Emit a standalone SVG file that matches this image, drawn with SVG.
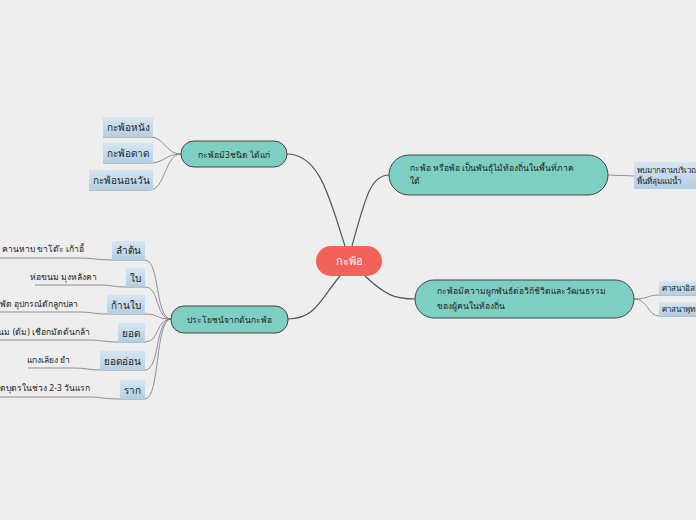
<svg xmlns="http://www.w3.org/2000/svg" width="696" height="520" viewBox="0 0 696 520">
<defs>
<linearGradient id="lb" x1="0" y1="0" x2="0" y2="1"><stop offset="0" stop-color="#d6e6f2"/><stop offset="1" stop-color="#b3cee2"/></linearGradient>
<style>
text{font-family:"Noto Sans","DejaVu Sans",sans-serif;fill:#222}
.b{fill:#7ecfc3;stroke:#444;stroke-width:1}
.l{fill:url(#lb)}
.c{fill:none;stroke:#555;stroke-width:1.2}
.t{fill:none;stroke:#777;stroke-width:0.8}
.s{font-size:10px}
.d{font-size:8.5px}
.m{font-size:11px}
</style>
</defs>
<rect width="696" height="520" fill="#eeeeee"/>
<g id="connectors">
<path class="c" d="M345,246 C330,200 320,154 287,154"/>
<path class="c" d="M352,246 C365,200 370,175 389,175"/>
<path class="c" d="M340,276 C320,300 315,319 288,319"/>
<path class="c" d="M365,276 C385,295 395,299 415,299"/>
<path class="t" d="M181,154 C165,154 165,137 150,137 L103,137"/>
<path class="t" d="M181,154 C165,154 165,163 150,163 L103,163"/>
<path class="t" d="M181,154 C165,154 165,190 150,190 L89,190"/>
<path class="t" d="M608,175 L634,176"/>
<path class="t" d="M634,299 C648,299 648,295 659,295 L696,295"/>
<path class="t" d="M634,299 C648,299 648,316 659,316 L696,316"/>
<path class="t" d="M171,319 C155,319 160,260 145,260 L112,260 C100,260 90,258 80,258 L0,258"/>
<path class="t" d="M171,319 C155,319 160,287 145,287 L126,287 C115,287 110,285 100,285 L35,285"/>
<path class="t" d="M171,319 C155,319 160,314 145,314 L107,314 C95,314 90,312 80,312 L0,312"/>
<path class="t" d="M171,319 C155,319 160,342 145,342 L118,342 C105,342 100,340 90,340 L0,340"/>
<path class="t" d="M171,319 C155,319 160,370 145,370 L100,370 C90,370 85,368 75,368 L28,368"/>
<path class="t" d="M171,319 C155,319 160,399 145,399 L120,399 C105,399 100,397 90,397 L0,397"/>
</g>
<g id="center"><rect x="316" y="246" width="66" height="30" rx="15" fill="#f2625a"/><text x="349" y="265" class="m" text-anchor="middle" style="fill:#fff">กะพ้อ</text></g>
<g id="b1"><rect class="b" x="389" y="155" width="219" height="40" rx="20"/><text x="410" y="171" class="d">กะพ้อ หรือพ้อ เป็นพันธุ์ไม้ท้องถิ่นในพื้นที่ภาค</text><text x="410" y="184" class="d">ใต้</text></g>
<g id="b2"><rect class="b" x="415" y="280" width="219" height="38" rx="19"/><text x="437" y="294" class="d">กะพ้อมีความผูกพันธ์ต่อวิถีชีวิตและวัฒนธรรม</text><text x="437" y="309" class="d">ของผู้คนในท้องถิ่น</text></g>
<g id="b3"><rect class="b" x="181" y="141" width="106" height="26" rx="13"/><text x="234" y="158" class="d" text-anchor="middle">กะพ้อมี3ชนิด ได้แก่</text></g>
<g id="b4"><rect class="b" x="171" y="306" width="117" height="27" rx="13"/><text x="229" y="323" class="d" text-anchor="middle">ประโยชน์จากต้นกะพ้อ</text></g>
<g id="r1"><rect class="l" x="634" y="162" width="62" height="27"/><text x="637" y="173" style="font-size:8px">พบมากตามบริเวณ</text><text x="637" y="184" style="font-size:8px">พื้นที่ลุ่มแม่น้ำ</text></g>
<g id="r2"><rect class="l" x="659" y="281" width="37" height="14"/><text x="662" y="291" style="font-size:8px">ศาสนาอิสลาม</text></g>
<g id="r3"><rect class="l" x="659" y="302" width="37" height="14"/><text x="662" y="312" style="font-size:8px">ศาสนาพุทธ</text></g>
<g id="k1"><rect class="l" x="103" y="117" width="50" height="20"/><text x="128" y="131" class="s" text-anchor="middle">กะพ้อหนัง</text></g>
<g id="k2"><rect class="l" x="103" y="143" width="50" height="20"/><text x="128" y="157" class="s" text-anchor="middle">กะพ้อดาด</text></g>
<g id="k3"><rect class="l" x="89" y="170" width="64" height="20"/><text x="121" y="184" class="s" text-anchor="middle">กะพ้อนอนวัน</text></g>
<g id="u1"><rect class="l" x="112" y="241" width="33" height="19"/><text x="128" y="254" class="s" text-anchor="middle">ลำต้น</text><text x="84" y="252" class="d" text-anchor="end">ทำสะพานข้ามน้ำ คานหาบ ขาโต๊ะ เก้าอี้</text></g>
<g id="u2"><rect class="l" x="126" y="268" width="19" height="19"/><text x="135" y="282" class="s" text-anchor="middle">ใบ</text><text x="97" y="280" class="d" text-anchor="end">ห่อขนม มุงหลังคา</text></g>
<g id="u3"><rect class="l" x="107" y="295" width="38" height="19"/><text x="126" y="309" class="s" text-anchor="middle">ก้านใบ</text><text x="78" y="307" class="d" text-anchor="end">ทำเสื่อ พัด อุปกรณ์ดักลูกปลา</text></g>
<g id="u4"><rect class="l" x="118" y="323" width="27" height="19"/><text x="131" y="337" class="s" text-anchor="middle">ยอด</text><text x="90" y="335" class="d" text-anchor="end">ห่อขนม (ต้ม) เชือกมัดต้นกล้า</text></g>
<g id="u5"><rect class="l" x="100" y="351" width="45" height="19"/><text x="122" y="365" class="s" text-anchor="middle">ยอดอ่อน</text><text x="70" y="363" class="d" text-anchor="end">แกงเลียง ยำ</text></g>
<g id="u6"><rect class="l" x="120" y="380" width="25" height="19"/><text x="132" y="394" class="s" text-anchor="middle">ราก</text><text x="90" y="391" class="d" text-anchor="end">ต้มน้ำดื่มสำหรับหญิงหลังคลอดบุตรในช่วง 2-3 วันแรก</text></g>
</svg>
